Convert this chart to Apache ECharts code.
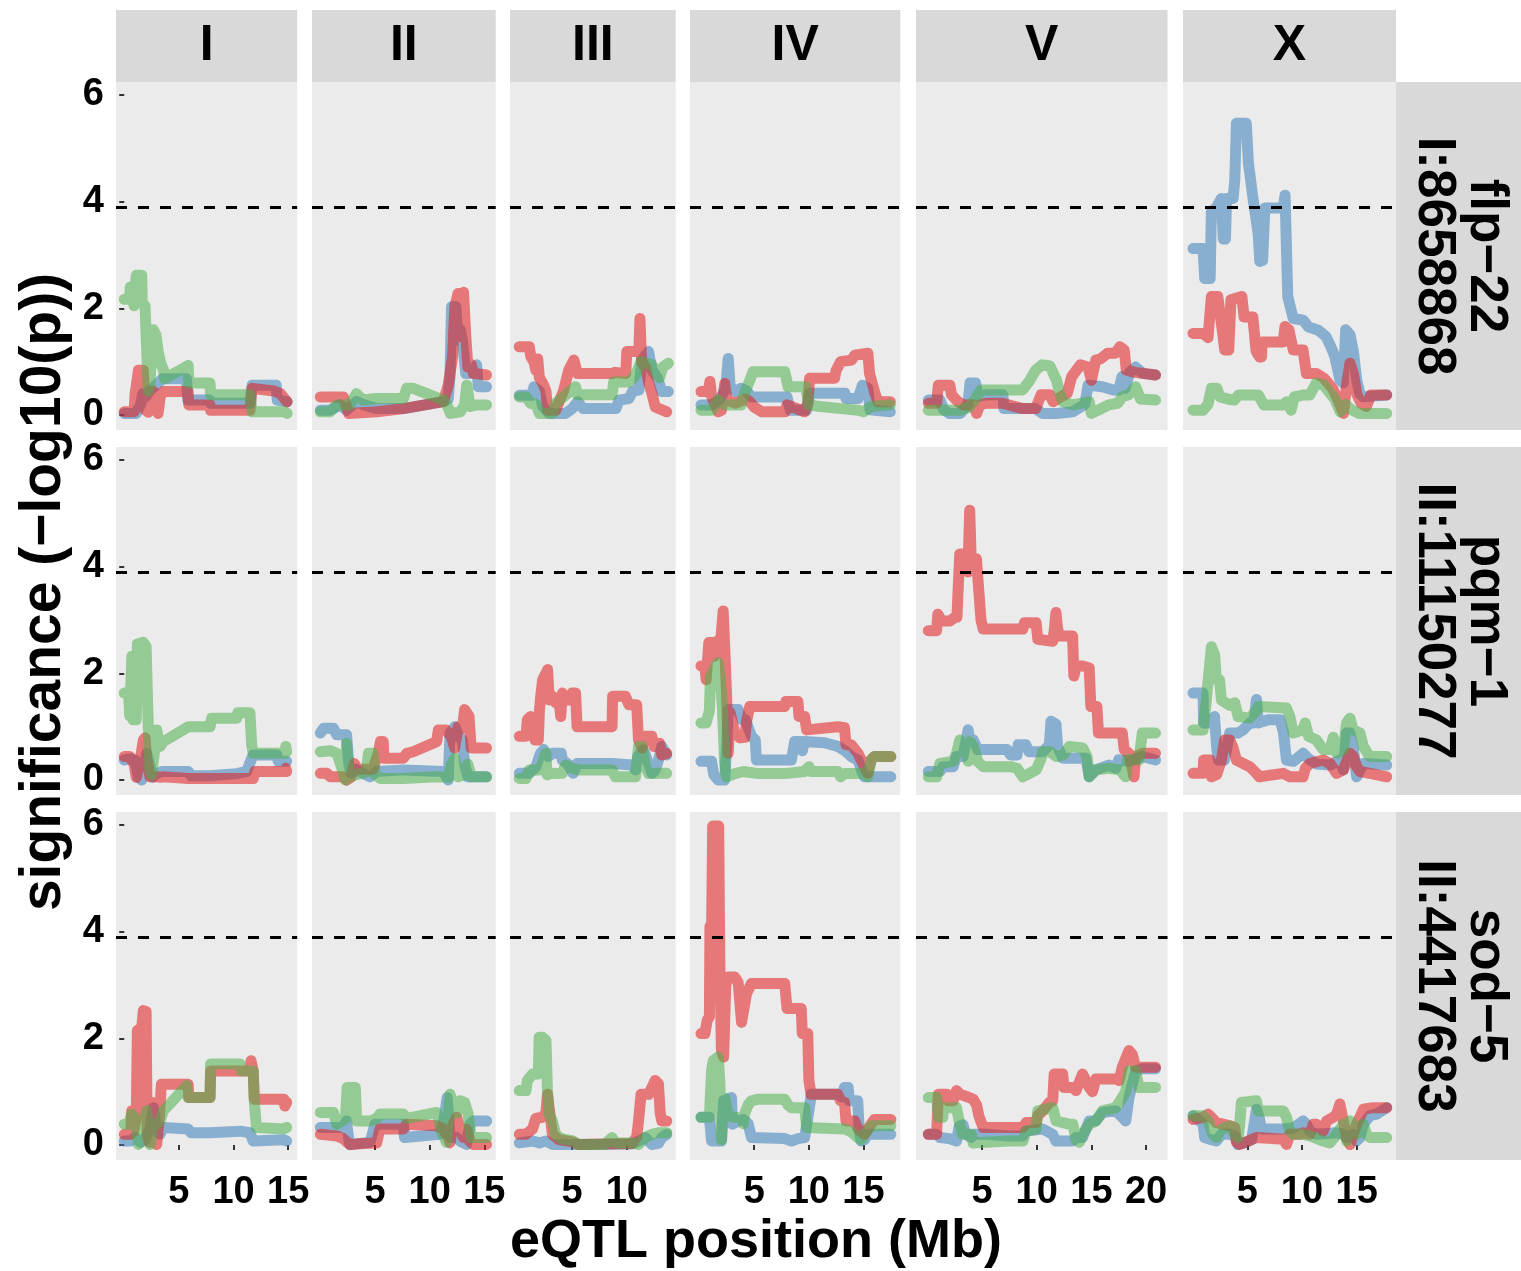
<!DOCTYPE html>
<html>
<head>
<meta charset="utf-8">
<script src="https://cdn.jsdelivr.net/npm/echarts@6/dist/echarts.min.js"></script>
<style>
html,body{margin:0;padding:0;background:#fff;}
#chart{width:1521px;height:1271px;}
</style>
</head>
<body>
<div id="chart"></div>
<script>
// ---------------- DATA ----------------
const chromNames = ['I', 'II', 'III', 'IV', 'V', 'X'];
const chromLengths = [15.07, 15.28, 13.78, 17.49, 20.92, 17.72];
const genes = ['flp22', 'pqm1', 'sod5'];
const geneNames = ['flp\u221222', 'pqm\u22121', 'sod\u22125'];
const genePositions = ['I:8658868', 'II:11150277', 'II:4417683'];
const yTicks = [0, 2, 4, 6];
const xTicks = [5, 10, 15, 20];
const threshold = 3.9;
const yRange = [-0.281, 6.244];
const xTitle = 'eQTL position (Mb)';
const yTitle = 'significance (\u2212log10(p))';

// flp-22
const flp22_I_blue = [[0,0.03],[1.1,0.03],[1.5,0.2],[1.7,0.4],[2.0,0.35],[2.3,0.45],[2.6,0.5],[3.2,0.62],[3.5,0.68],[5.7,0.68],[5.8,0.28],[7.8,0.28],[7.9,0.22],[11.5,0.22],[11.7,0.56],[13.9,0.56],[14.0,0.28],[14.9,0.25]];
const flp22_I_red = [[0,0.06],[0.9,0.06],[1.0,0.4],[1.3,0.84],[1.75,0.84],[1.9,0.1],[2.2,0.05],[2.6,0.45],[2.9,0.4],[3.1,0.03],[3.3,0.35],[3.6,0.44],[5.85,0.44],[5.9,0.19],[7.85,0.19],[7.9,0.09],[11.5,0.09],[11.7,0.5],[13.7,0.45],[14.3,0.4],[14.9,0.25]];
const flp22_I_green = [[0,2.17],[0.5,2.17],[0.55,2.4],[0.85,2.4],[0.9,2.05],[1.05,2.05],[1.1,2.62],[1.6,2.62],[1.65,2.1],[1.9,2.05],[2.2,0.45],[2.35,0.6],[2.66,1.6],[2.9,1.5],[3.1,1.2],[3.3,1.0],[3.6,0.84],[3.7,0.68],[5.85,0.93],[5.9,0.6],[7.85,0.6],[7.9,0.38],[11.5,0.38],[11.7,0.06],[14.7,0.06],[14.9,0.03]];
const flp22_II_blue = [[0,0.09],[0.9,0.09],[1.8,0.19],[2.4,0.09],[3.3,0.25],[4.0,0.19],[5.15,0.12],[7.6,0.12],[11.25,0.25],[11.7,0.3],[11.86,0.72],[12.0,2.03],[12.4,2.03],[12.6,1.4],[12.8,1.6],[13.0,1.4],[13.3,0.78],[13.7,0.78],[14.3,0.94],[14.45,0.53],[15.2,0.53]];
const flp22_II_red = [[0,0.34],[2.1,0.34],[2.6,0.03],[5.2,0.06],[7.6,0.12],[11.25,0.25],[11.7,0.56],[12.1,1.1],[12.3,2.03],[12.6,2.28],[12.75,1.47],[12.9,2.2],[13.1,2.3],[13.3,1.5],[13.5,0.9],[13.8,0.95],[14.0,0.78],[15.2,0.75]];
const flp22_II_green = [[0,0.06],[0.9,0.06],[1.5,0.19],[2.7,0.19],[3.3,0.4],[3.9,0.28],[5.15,0.31],[7.6,0.31],[7.9,0.5],[8.5,0.5],[11.25,0.28],[11.6,0.18],[11.9,0.03],[12.8,0.06],[13.2,0.19],[13.4,0.56],[13.7,0.16],[14.3,0.19],[15.2,0.19]];
const flp22_III_blue = [[0.16,0.37],[1.3,0.37],[1.5,0.53],[2.0,0.45],[2.3,0.16],[2.9,0.03],[4.4,0.03],[5.0,0.12],[5.5,0.25],[6.0,0.12],[9.0,0.12],[9.3,0.28],[10.2,0.31],[10.5,0.44],[11.1,0.47],[11.38,1.03],[11.98,1.19],[12.3,0.84],[12.8,0.7],[13.2,0.44],[13.8,0.44]];
const flp22_III_red = [[0.16,1.28],[1.07,1.28],[1.22,1.09],[1.5,1.0],[1.68,0.84],[1.85,1.05],[2.0,0.7],[2.3,0.6],[2.6,0.45],[2.75,0.09],[3.5,0.09],[4.2,0.45],[4.7,0.85],[5.16,1.03],[5.47,0.78],[8.65,0.78],[8.95,0.8],[9.9,0.78],[10.0,1.19],[11.1,1.19],[11.2,1.81],[11.35,1.0],[11.7,0.9],[12.0,0.6],[12.3,0.4],[12.6,0.15],[13.65,0.06]];
const flp22_III_green = [[0.16,0.34],[0.8,0.34],[1.2,0.22],[1.7,0.2],[2.0,0.03],[3.2,0.03],[3.5,0.22],[4.2,0.34],[4.8,0.44],[5.3,0.53],[5.5,0.38],[8.65,0.38],[8.8,0.62],[10.2,0.62],[10.8,0.75],[11.3,1.0],[12.3,0.94],[12.6,0.82],[13.0,0.7],[13.3,0.9],[13.8,0.97]];
const flp22_IV_blue = [[0.13,0.19],[1.1,0.19],[1.8,0.28],[2.4,0.5],[2.62,1.06],[2.8,0.53],[3.3,0.44],[3.8,0.5],[4.3,0.45],[4.75,0.34],[8.0,0.34],[8.3,0.09],[9.8,0.09],[10.1,0.41],[13.3,0.41],[13.4,0.31],[14.5,0.31],[14.9,0.56],[15.4,0.5],[15.6,0.1],[17.45,0.06]];
const flp22_IV_red = [[0.13,0.44],[0.8,0.44],[0.95,0.63],[1.1,0.35],[1.7,0.06],[2.0,0.09],[2.3,0.59],[2.5,0.28],[3.3,0.22],[4.2,0.3],[4.6,0.25],[5.0,0.15],[5.7,0.06],[7.8,0.06],[8.0,0.19],[8.9,0.12],[9.6,0.06],[9.9,0.22],[10.07,0.69],[12.35,0.69],[12.5,0.84],[12.9,1.0],[13.9,1.03],[14.2,1.12],[15.4,1.16],[15.55,0.78],[16.0,0.44],[16.3,0.25],[17.45,0.25]];
const flp22_IV_green = [[0.13,0.09],[1.1,0.09],[1.7,0.28],[2.3,0.19],[3.8,0.19],[4.1,0.4],[4.5,0.6],[4.9,0.81],[7.8,0.81],[8.1,0.53],[9.7,0.53],[10.0,0.19],[11.0,0.16],[13.0,0.12],[14.5,0.09],[15.0,0.06],[15.7,0.16],[17.45,0.19]];
const flp22_V_blue = [[0.08,0.28],[1.14,0.28],[1.5,0.1],[2.0,0.03],[3.0,0.03],[3.5,0.15],[3.7,0.18],[3.9,0.6],[4.4,0.6],[4.6,0.35],[5.4,0.38],[6.9,0.38],[7.0,0.12],[9.9,0.12],[10.5,0.03],[11.8,0.03],[13.3,0.06],[14.0,0.15],[14.4,0.2],[14.7,0.56],[16.0,0.53],[17.0,0.47],[17.5,0.47],[17.8,0.72],[18.1,0.5],[18.5,0.8],[19.05,0.9],[19.7,0.78],[20.87,0.75]];
const flp22_V_red = [[0.08,0.22],[0.84,0.22],[1.0,0.56],[2.05,0.56],[2.2,0.38],[2.8,0.25],[3.3,0.19],[4.2,0.19],[4.5,0.03],[4.8,0.19],[5.4,0.22],[6.9,0.22],[8.7,0.12],[9.9,0.12],[10.4,0.38],[11.2,0.38],[11.5,0.25],[12.2,0.34],[12.8,0.41],[13.2,0.72],[14.0,0.94],[14.7,0.9],[15.0,0.65],[15.4,1.03],[15.8,1.05],[16.5,1.16],[17.2,1.16],[17.6,1.28],[18.0,1.22],[18.2,0.84],[19.0,0.8],[20.87,0.75]];
const flp22_V_green = [[0.08,0.09],[3.0,0.09],[3.8,0.15],[4.4,0.3],[4.9,0.47],[8.7,0.47],[9.3,0.63],[9.9,0.84],[10.5,0.94],[11.2,0.92],[11.8,0.66],[12.1,0.41],[12.4,0.25],[13.3,0.19],[14.8,0.25],[15.0,0.03],[15.6,0.09],[16.6,0.19],[17.4,0.22],[17.8,0.34],[18.4,0.38],[19.05,0.53],[19.5,0.3],[20.87,0.28]];
const flp22_X_blue = [[0.03,3.12],[0.95,3.12],[1.1,2.56],[1.6,2.56],[1.71,3.81],[2.2,3.9],[2.63,4.06],[2.8,3.3],[3.0,3.3],[3.1,4.06],[3.7,4.06],[3.85,4.4],[4.0,5.47],[4.9,5.47],[5.1,4.72],[5.5,4.09],[5.99,3.4],[6.14,2.88],[6.4,2.9],[6.6,3.88],[8.28,3.88],[8.45,4.12],[8.7,2.22],[9.0,1.97],[9.2,1.81],[10.1,1.78],[10.6,1.65],[11.5,1.59],[12.2,1.47],[12.6,1.3],[13.0,1.1],[13.47,0.66],[13.78,0.6],[14.0,1.6],[14.4,1.5],[14.7,1.2],[15.0,0.66],[15.3,0.4],[15.6,0.34],[17.75,0.375]];
const flp22_X_red = [[0.03,1.53],[0.95,1.53],[1.4,1.45],[1.71,2.22],[2.3,2.22],[2.7,1.6],[2.93,1.22],[3.3,1.22],[3.5,2.16],[4.5,2.22],[4.7,1.84],[5.5,1.84],[5.8,1.2],[6.1,1.09],[6.3,1.09],[6.35,1.37],[8.28,1.37],[8.45,1.66],[8.8,1.6],[9.2,1.22],[10.1,1.22],[10.4,0.78],[11.3,0.78],[12.0,0.69],[12.8,0.5],[13.3,0.28],[13.8,0.03],[14.1,0.6],[14.39,0.97],[14.7,0.78],[15.0,0.4],[15.4,0.22],[15.9,0.16],[16.3,0.375],[17.75,0.375]];
const flp22_X_green = [[0.03,0.09],[0.95,0.09],[1.4,0.2],[1.71,0.5],[2.2,0.5],[2.5,0.34],[3.2,0.3],[3.8,0.28],[4.2,0.375],[6.0,0.375],[6.5,0.19],[8.3,0.19],[8.6,0.25],[9.0,0.09],[9.3,0.34],[10.1,0.375],[10.7,0.375],[11.3,0.6],[12.0,0.56],[12.6,0.4],[13.0,0.3],[13.5,0.06],[14.0,0.2],[14.5,0.1],[15.2,0.03],[17.75,0.03]];

// pqm-1
const pqm1_I_blue = [[0,0.375],[0.6,0.4],[1.0,0.37],[1.3,0.05],[1.6,0.0],[1.9,0.3],[2.05,0.5],[2.3,0.3],[2.6,0.05],[3.0,0.12],[3.5,0.16],[5.87,0.16],[6.1,0.08],[7.85,0.08],[10.3,0.12],[11.2,0.16],[11.6,0.375],[11.8,0.47],[13.95,0.47],[14.1,0.35],[14.86,0.35]];
const pqm1_I_red = [[0,0.44],[0.5,0.44],[0.9,0.3],[1.1,0.05],[1.4,0.3],[1.75,0.75],[1.9,0.79],[2.05,0.4],[2.36,0.06],[2.97,0.06],[3.3,0.05],[3.58,0.06],[5.87,0.03],[7.85,0.03],[11.8,0.03],[11.95,0.16],[14.7,0.16],[14.78,0.22],[14.86,0.16]];
const pqm1_I_green = [[0,1.63],[0.4,1.63],[0.5,1.2],[0.7,2.32],[0.8,1.13],[1.1,1.13],[1.2,2.55],[1.75,2.58],[2.0,2.5],[2.2,1.0],[2.36,0.2],[2.5,0.1],[2.75,0.5],[2.97,0.94],[3.3,0.63],[3.58,0.72],[5.87,1.0],[7.85,1.0],[8.0,1.16],[10.29,1.16],[10.4,1.26],[11.5,1.26],[11.66,0.66],[11.8,0.5],[14.7,0.5],[14.78,0.63],[14.86,0.53]];
const pqm1_II_blue = [[0,0.88],[0.3,0.97],[1.2,0.97],[1.5,0.85],[2.4,0.85],[2.6,0.3],[2.8,0.13],[3.3,0.2],[3.9,0.12],[4.54,0.06],[5.15,0.16],[7.6,0.19],[11.25,0.16],[11.7,0.0],[11.86,0.88],[12.3,1.0],[12.7,0.8],[13.0,0.75],[13.2,0.3],[13.5,0.06],[15.2,0.06]];
const pqm1_II_red = [[0,0.125],[0.6,0.125],[0.9,0.06],[2.1,0.06],[2.4,0.0],[2.8,0.05],[3.1,0.31],[3.4,0.2],[4.8,0.2],[5.3,0.5],[5.5,0.72],[5.76,0.72],[5.8,0.41],[7.6,0.41],[7.9,0.5],[8.5,0.53],[10.64,0.72],[10.8,0.94],[11.5,0.94],[12.0,0.8],[12.3,0.6],[12.6,1.0],[13.0,0.97],[13.2,1.32],[13.6,1.2],[13.8,0.6],[15.2,0.6]];
const pqm1_II_green = [[0,0.53],[0.9,0.55],[1.5,0.5],[2.0,0.2],[2.3,0.0],[2.4,0.69],[2.6,0.05],[3.3,0.1],[4.2,0.15],[4.4,0.5],[4.8,0.5],[5.0,0.1],[5.5,0.03],[7.6,0.03],[10.64,0.06],[11.7,0.05],[12.0,0.3],[12.3,0.41],[12.6,0.06],[13.2,0.1],[13.5,0.3],[13.8,0.06],[15.2,0.06]];
const pqm1_III_blue = [[0.16,0.125],[1.07,0.125],[1.68,0.25],[2.1,0.5],[2.4,0.57],[2.8,0.44],[3.2,0.5],[4.0,0.5],[4.1,0.375],[4.6,0.3],[5.1,0.125],[5.45,0.31],[8.65,0.31],[10.47,0.28],[10.8,0.19],[11.0,0.44],[11.5,0.57],[11.7,0.47],[12.3,0.125],[12.6,0.19],[12.9,0.375],[13.2,0.63],[13.65,0.47]];
const pqm1_III_red = [[0.16,0.82],[0.77,0.82],[0.9,1.13],[1.2,1.19],[1.4,0.9],[1.6,0.75],[1.9,0.75],[2.0,1.3],[2.15,1.63],[2.3,1.88],[2.6,2.0],[2.75,2.07],[2.9,1.5],[3.2,1.57],[3.5,1.45],[3.8,1.5],[3.95,1.19],[4.1,1.63],[4.4,1.5],[4.8,1.5],[5.0,1.63],[5.31,1.63],[5.45,1.0],[8.65,1.0],[8.7,1.57],[9.86,1.57],[10.2,1.41],[10.9,1.41],[11.07,0.75],[11.4,0.6],[11.68,0.82],[12.29,0.82],[12.5,0.63],[12.89,0.63],[13.0,0.69],[13.2,0.47],[13.65,0.5]];
const pqm1_III_green = [[0.16,0.03],[0.77,0.03],[1.07,0.19],[1.98,0.19],[2.28,0.3],[2.59,0.5],[2.7,0.1],[3.0,0.12],[4.1,0.125],[4.4,0.28],[5.0,0.22],[5.6,0.19],[8.65,0.19],[8.95,0.06],[10.8,0.06],[11.07,0.63],[11.4,0.63],[11.7,0.25],[12.0,0.12],[13.2,0.125],[13.65,0.125]];
const pqm1_IV_blue = [[0.13,0.35],[1.1,0.35],[1.3,0.1],[1.7,0.0],[2.3,0.0],[2.5,0.7],[2.62,1.32],[3.53,1.32],[3.9,1.13],[4.2,1.13],[4.75,0.82],[5.1,0.75],[5.2,0.375],[8.4,0.375],[8.7,0.72],[9.3,0.72],[9.4,0.55],[9.6,0.72],[11.43,0.7],[12.65,0.63],[13.3,0.55],[13.9,0.44],[14.5,0.375],[14.8,0.19],[15.1,0.06],[17.5,0.06]];
const pqm1_IV_red = [[0.13,2.14],[0.49,2.14],[0.6,1.88],[0.85,2.58],[1.2,2.58],[1.35,2.32],[1.6,2.6],[1.85,2.4],[2.16,3.17],[2.3,2.5],[2.47,1.6],[2.62,0.5],[2.8,1.26],[3.23,0.88],[3.7,0.79],[4.14,0.8],[4.3,1.1],[4.6,1.38],[7.79,1.38],[7.9,1.47],[9.0,1.47],[9.1,1.19],[9.61,1.19],[9.8,0.94],[12.65,1.0],[13.26,0.98],[13.4,0.66],[13.87,0.66],[14.5,0.5],[15.08,0.25],[15.39,0.13],[15.7,0.38],[16.0,0.44],[17.5,0.44]];
const pqm1_IV_green = [[0.13,1.07],[0.6,1.07],[0.9,1.3],[1.0,1.95],[1.4,2.1],[1.71,2.2],[1.9,1.9],[2.1,1.3],[2.3,0.3],[2.47,0.06],[3.23,0.12],[4.0,0.16],[5.4,0.12],[7.8,0.12],[9.6,0.16],[10.0,0.25],[10.2,0.16],[12.65,0.16],[12.9,0.06],[13.3,0.12],[14.5,0.12],[15.1,0.12],[15.39,0.06],[15.7,0.375],[16.0,0.44],[17.5,0.44]];
const pqm1_V_blue = [[0.08,0.16],[1.14,0.16],[1.4,0.25],[2.35,0.25],[2.66,0.44],[3.26,0.44],[3.72,0.94],[3.9,0.75],[4.2,0.75],[4.6,0.57],[7.3,0.57],[7.6,0.47],[8.2,0.47],[8.3,0.66],[9.0,0.66],[9.3,0.53],[10.55,0.53],[11.16,0.66],[11.3,1.1],[11.76,1.05],[11.9,0.63],[12.37,0.41],[13.59,0.41],[14.5,0.41],[14.8,0.06],[15.4,0.19],[16.6,0.28],[17.23,0.22],[17.5,0.38],[18.4,0.35],[19.66,0.44],[20.87,0.375]];
const pqm1_V_red = [[0.08,2.8],[0.84,2.8],[0.95,3.11],[1.3,2.98],[2.05,2.98],[2.5,3.05],[2.7,3.05],[2.81,3.58],[2.96,4.24],[3.5,4.24],[3.7,3.9],[3.87,5.06],[4.0,4.15],[4.48,4.15],[4.9,3.0],[5.1,2.83],[8.73,2.83],[8.88,2.95],[9.94,2.95],[10.1,2.64],[11.46,2.6],[11.6,2.8],[11.76,3.14],[11.9,2.85],[12.07,2.7],[13.28,2.7],[13.4,1.95],[13.6,2.14],[14.2,2.14],[14.8,2.1],[14.95,1.38],[15.5,1.38],[15.65,0.88],[17.83,0.88],[18.0,0.57],[18.44,0.5],[18.9,0.06],[19.05,0.44],[19.66,0.5],[20.87,0.5]];
const pqm1_V_green = [[0.08,0.06],[0.84,0.06],[1.14,0.31],[2.35,0.35],[2.66,0.5],[2.96,0.75],[3.3,0.6],[3.57,0.55],[3.72,0.35],[3.87,0.72],[4.2,0.63],[4.6,0.35],[5.1,0.25],[7.6,0.25],[8.2,0.22],[8.73,0.06],[9.3,0.12],[9.94,0.19],[10.4,0.4],[10.55,0.53],[11.2,0.53],[11.8,0.44],[12.4,0.47],[12.98,0.63],[14.2,0.6],[14.6,0.44],[14.8,0.06],[15.4,0.19],[16.6,0.22],[17.6,0.19],[18.14,0.06],[18.3,0.38],[19.35,0.38],[19.66,0.88],[20.87,0.88]];
const pqm1_X_blue = [[0.03,1.63],[0.95,1.63],[1.0,1.07],[1.6,1.07],[2.0,1.19],[2.2,0.6],[2.35,0.375],[2.9,0.375],[3.39,0.88],[4.15,0.88],[4.61,0.94],[5.22,1.07],[5.6,1.07],[5.83,1.51],[6.0,1.07],[6.9,1.13],[8.0,1.13],[8.3,0.9],[8.58,0.375],[9.2,0.35],[10.11,0.5],[10.6,0.4],[11.33,0.3],[12.56,0.28],[13.47,0.375],[13.78,0.19],[14.08,0.88],[14.39,0.88],[14.69,0.6],[15.0,0.06],[15.3,0.19],[15.61,0.31],[17.75,0.28]];
const pqm1_X_red = [[0.03,0.125],[0.95,0.125],[1.0,0.375],[1.6,0.375],[1.71,0.06],[2.2,0.1],[2.63,0.375],[2.93,0.75],[3.39,0.75],[3.7,0.6],[4.0,0.375],[4.61,0.31],[5.22,0.25],[5.83,0.125],[6.1,0.06],[8.28,0.125],[8.9,0.06],[10.1,0.06],[10.3,0.22],[10.72,0.31],[11.94,0.375],[12.56,0.31],[13.17,0.125],[13.78,0.19],[14.39,0.5],[14.69,0.44],[15.0,0.25],[15.3,0.16],[16.22,0.125],[17.75,0.06]];
const pqm1_X_green = [[0.03,0.94],[0.95,0.94],[1.2,1.4],[1.71,2.5],[2.0,2.35],[2.17,1.88],[2.45,1.88],[2.63,1.5],[3.39,1.4],[3.85,1.45],[4.15,1.19],[5.22,1.16],[5.83,1.3],[6.0,1.38],[8.58,1.35],[8.89,1.19],[9.19,0.88],[10.1,0.94],[10.3,1.07],[10.6,0.82],[11.33,0.75],[11.94,0.57],[12.56,0.57],[12.86,0.8],[13.17,0.5],[13.78,0.57],[14.08,1.07],[14.39,1.16],[14.69,0.94],[15.3,0.88],[15.61,0.63],[16.0,0.5],[16.22,0.44],[17.75,0.44]];

// sod-5
const sod5_I_blue = [[0,0.075],[0.6,0.075],[0.99,0.14],[1.5,0.05],[1.9,0.1],[2.36,0.3],[2.66,0.7],[2.97,0.3],[3.27,0.2],[3.58,0.33],[5.85,0.3],[6.1,0.23],[7.85,0.23],[10.6,0.26],[11.5,0.23],[11.8,0.075],[14.6,0.1],[14.86,0.075]];
const sod5_I_red = [[0,0.2],[0.6,0.2],[0.68,0.64],[0.85,0.25],[1.1,0.5],[1.2,2.15],[1.6,2.2],[1.75,2.52],[2.0,2.5],[2.1,0.2],[2.3,0.05],[2.5,0.8],[2.66,0.1],[2.97,0.01],[3.2,0.5],[3.4,1.14],[5.85,1.14],[5.9,0.89],[7.85,0.89],[7.9,1.39],[10.6,1.39],[11.5,1.39],[11.6,1.58],[11.8,1.39],[11.9,0.86],[14.6,0.86],[14.7,0.73],[14.86,0.8]];
const sod5_I_green = [[0,0.39],[0.4,0.39],[0.68,0.58],[1.0,0.5],[1.3,0.01],[1.6,0.1],[1.9,0.5],[2.05,0.64],[2.36,0.01],[2.66,0.39],[2.97,0.39],[3.27,0.45],[3.58,0.64],[5.71,1.11],[5.85,0.89],[7.85,0.89],[7.9,1.52],[10.59,1.52],[10.7,1.39],[11.8,1.39],[11.9,0.8],[12.1,0.33],[14.6,0.3],[14.86,0.33]];
const sod5_II_blue = [[0,0.33],[2.1,0.33],[2.4,0.45],[2.6,0.1],[2.71,0.01],[4.54,0.05],[5.0,0.39],[7.59,0.39],[7.7,0.14],[10.9,0.2],[11.25,0.39],[11.6,0.89],[11.86,0.14],[12.47,0.14],[12.77,0.075],[13.38,0.01],[13.69,0.39],[13.99,0.45],[15.21,0.45]];
const sod5_II_red = [[0,0.2],[1.5,0.17],[2.1,0.12],[2.4,0.06],[2.71,0.01],[3.9,0.03],[5.15,0.04],[5.45,0.3],[7.59,0.3],[7.9,0.39],[10.64,0.36],[11.25,0.3],[11.7,0.14],[11.86,0.04],[12.16,0.39],[12.47,0.52],[12.77,0.3],[13.08,0.14],[13.38,0.3],[13.7,0.06],[14.0,0.01],[15.2,0.01]];
const sod5_II_green = [[0,0.61],[1.2,0.61],[1.5,0.39],[2.3,0.5],[2.45,1.08],[3.2,1.08],[3.32,0.45],[4.6,0.45],[5.15,0.5],[5.45,0.58],[7.6,0.58],[7.9,0.5],[10.64,0.61],[11.1,0.25],[11.55,0.05],[11.86,0.95],[12.2,0.7],[12.47,0.6],[12.77,0.83],[13.2,0.8],[13.5,0.6],[13.8,0.14],[15.2,0.14]];
const sod5_III_blue = [[0.16,0.04],[1.37,0.075],[2.0,0.04],[2.6,0.075],[3.19,0.01],[5.61,0.01],[10.47,0.02],[11.07,0.075],[11.68,0.14],[12.29,0.01],[12.89,0.03],[13.2,0.14],[13.65,0.2]];
const sod5_III_red = [[0.16,0.2],[0.77,0.2],[1.37,0.3],[1.68,0.5],[2.28,0.52],[2.59,0.6],[2.74,0.95],[2.89,0.7],[3.19,0.2],[3.8,0.1],[5.01,0.06],[5.61,0.01],[10.47,0.03],[10.9,0.15],[11.07,0.45],[11.3,0.95],[12.0,0.95],[12.29,1.08],[12.59,1.21],[12.89,1.15],[13.05,0.6],[13.2,0.45],[13.65,0.45]];
const sod5_III_green = [[0.16,1.02],[0.77,1.02],[0.9,1.21],[1.37,1.33],[1.9,1.33],[1.98,2.02],[2.28,2.02],[2.6,1.96],[2.74,1.0],[2.89,0.58],[3.19,0.45],[3.49,0.2],[3.8,0.14],[4.4,0.1],[5.01,0.08],[5.61,0.01],[8.04,0.01],[8.35,0.08],[8.65,0.14],[8.95,0.04],[10.47,0.04],[11.07,0.01],[11.38,0.08],[11.68,0.14],[12.29,0.2],[12.89,0.23],[13.65,0.23]];
const sod5_IV_blue = [[0.13,0.52],[0.9,0.52],[1.1,0.075],[2.01,0.075],[2.2,0.83],[2.92,0.89],[3.0,0.39],[3.53,0.45],[3.99,0.48],[4.44,0.4],[4.75,0.14],[7.79,0.12],[8.4,0.075],[9.0,0.12],[9.61,0.14],[9.9,0.5],[10.22,0.95],[12.65,0.95],[13.0,0.9],[13.26,1.08],[13.6,1.08],[13.7,0.83],[14.47,0.83],[14.6,0.3],[14.78,0.075],[15.08,0.1],[15.39,0.2],[17.5,0.2]];
const sod5_IV_red = [[0.13,2.09],[0.49,2.09],[0.7,2.34],[0.9,2.4],[0.95,4.1],[1.1,4.0],[1.2,5.98],[1.75,5.98],[1.85,3.5],[2.0,1.77],[2.2,1.65],[2.4,3.0],[2.62,3.15],[3.23,3.15],[3.53,3.05],[3.84,2.3],[3.99,2.27],[4.3,2.84],[4.75,3.03],[7.79,3.03],[8.0,2.56],[9.3,2.56],[9.4,2.09],[9.9,2.09],[10.0,1.21],[10.2,0.95],[12.65,0.95],[12.9,0.83],[13.26,0.8],[13.4,0.45],[14.2,0.45],[14.5,0.3],[15.08,0.2],[15.4,0.3],[15.7,0.39],[16.0,0.48],[17.5,0.48]];
const sod5_IV_green = [[0.13,0.52],[0.9,0.52],[1.1,1.4],[1.25,1.58],[1.71,1.65],[1.85,1.2],[2.0,0.1],[2.16,0.8],[2.32,0.88],[2.62,0.55],[3.23,0.52],[3.84,0.5],[4.0,0.4],[4.14,0.6],[4.44,0.75],[4.75,0.83],[5.36,0.86],[7.79,0.86],[8.09,0.75],[8.4,0.7],[9.61,0.7],[9.8,0.33],[13.26,0.3],[13.87,0.25],[14.47,0.14],[14.78,0.1],[15.08,0.2],[15.7,0.36],[17.5,0.36]];
const sod5_V_blue = [[0.08,0.2],[0.84,0.2],[1.14,0.14],[2.0,0.12],[2.66,0.075],[2.9,0.35],[3.26,0.38],[3.5,0.2],[4.0,0.14],[4.18,0.2],[5.39,0.2],[7.51,0.17],[8.73,0.17],[9.0,0.26],[10.55,0.3],[11.46,0.2],[11.76,0.075],[13.28,0.075],[13.59,0.14],[14.19,0.14],[14.8,0.45],[15.41,0.45],[16.01,0.61],[17.23,0.64],[17.83,0.52],[18.14,0.45],[18.44,0.89],[19.05,1.39],[19.66,1.43],[20.87,1.43]];
const sod5_V_red = [[0.08,0.2],[0.84,0.2],[1.0,0.95],[1.75,0.95],[1.9,0.83],[2.35,0.83],[2.66,1.02],[3.0,0.95],[3.7,0.9],[4.18,0.86],[4.5,0.75],[4.7,0.55],[5.09,0.33],[8.73,0.33],[9.03,0.42],[9.94,0.42],[10.1,0.55],[10.55,0.64],[11.16,0.8],[11.46,0.83],[11.6,1.33],[12.37,1.33],[12.5,1.08],[13.28,1.08],[13.59,1.02],[14.19,1.33],[14.8,1.08],[15.1,1.0],[15.41,1.24],[17.23,1.24],[17.53,1.21],[17.83,1.46],[18.44,1.77],[18.74,1.7],[19.05,1.46],[20.87,1.46]];
const sod5_V_green = [[0.08,0.89],[0.84,0.89],[1.0,0.52],[1.4,0.52],[1.5,0.7],[2.66,0.7],[2.96,0.39],[3.2,0.2],[4.02,0.2],[4.18,0.04],[5.39,0.05],[7.51,0.075],[8.73,0.075],[9.03,0.26],[9.94,0.3],[10.1,0.64],[11.46,0.7],[11.76,0.45],[12.98,0.39],[13.3,0.39],[13.59,0.1],[13.89,0.05],[14.19,0.2],[14.8,0.39],[15.41,0.45],[16.01,0.64],[16.62,0.67],[17.23,0.7],[17.83,0.89],[18.14,1.0],[18.44,1.39],[19.05,1.39],[19.35,1.08],[20.87,1.08]];
const sod5_X_blue = [[0.03,0.55],[0.95,0.4],[1.1,0.14],[1.71,0.1],[2.17,0.075],[2.63,0.2],[3.39,0.2],[3.85,0.17],[4.15,0.01],[4.9,0.05],[5.4,0.1],[5.83,0.67],[6.1,0.5],[6.3,0.3],[8.28,0.3],[9.2,0.32],[10.11,0.45],[10.42,0.38],[10.72,0.26],[11.33,0.2],[13.17,0.23],[13.78,0.2],[14.08,0.14],[14.69,0.2],[14.99,0.075],[15.3,0.14],[15.61,0.39],[16.22,0.55],[16.83,0.58],[17.75,0.7]];
const sod5_X_red = [[0.03,0.48],[0.95,0.52],[1.41,0.58],[1.71,0.52],[2.17,0.42],[2.8,0.39],[3.39,0.36],[3.85,0.33],[4.0,0.05],[4.3,0.01],[4.9,0.06],[5.83,0.14],[8.28,0.11],[8.58,0.01],[8.89,0.2],[9.81,0.2],[10.11,0.23],[10.72,0.2],[11.03,0.39],[11.33,0.39],[11.94,0.26],[12.25,0.45],[12.86,0.52],[13.17,0.58],[13.47,0.77],[13.78,0.45],[14.08,0.14],[14.39,0.01],[14.69,0.2],[14.99,0.39],[15.3,0.52],[15.61,0.67],[16.5,0.7],[17.75,0.7]];
const sod5_X_green = [[0.03,0.55],[0.95,0.55],[1.41,0.45],[1.86,0.2],[2.17,0.14],[2.63,0.3],[3.39,0.36],[3.85,0.2],[4.15,0.14],[4.3,0.39],[4.46,0.8],[5.83,0.83],[6.0,0.64],[8.28,0.64],[8.58,0.52],[8.89,0.26],[9.19,0.2],[10.11,0.2],[10.72,0.17],[11.94,0.075],[12.56,0.04],[13.17,0.2],[13.78,0.39],[14.08,0.075],[14.39,0.45],[14.69,0.39],[14.99,0.2],[15.61,0.39],[15.9,0.2],[16.22,0.14],[17.75,0.14]];

const seriesTable = {
  flp22: {
    I: [flp22_I_blue, flp22_I_red, flp22_I_green],
    II: [flp22_II_blue, flp22_II_red, flp22_II_green],
    III: [flp22_III_blue, flp22_III_red, flp22_III_green],
    IV: [flp22_IV_blue, flp22_IV_red, flp22_IV_green],
    V: [flp22_V_blue, flp22_V_red, flp22_V_green],
    X: [flp22_X_blue, flp22_X_red, flp22_X_green]
  },
  pqm1: {
    I: [pqm1_I_blue, pqm1_I_red, pqm1_I_green],
    II: [pqm1_II_blue, pqm1_II_red, pqm1_II_green],
    III: [pqm1_III_blue, pqm1_III_red, pqm1_III_green],
    IV: [pqm1_IV_blue, pqm1_IV_red, pqm1_IV_green],
    V: [pqm1_V_blue, pqm1_V_red, pqm1_V_green],
    X: [pqm1_X_blue, pqm1_X_red, pqm1_X_green]
  },
  sod5: {
    I: [sod5_I_blue, sod5_I_red, sod5_I_green],
    II: [sod5_II_blue, sod5_II_red, sod5_II_green],
    III: [sod5_III_blue, sod5_III_red, sod5_III_green],
    IV: [sod5_IV_blue, sod5_IV_red, sod5_IV_green],
    V: [sod5_V_blue, sod5_V_red, sod5_V_green],
    X: [sod5_X_blue, sod5_X_red, sod5_X_green]
  }
};

// ---------------- LAYOUT / STYLE ----------------
const lineColors = ['#377EB8', '#E41A1C', '#4DAF4A'];
const lineNames = ['blue', 'red', 'green'];
const FONT = '"Liberation Sans", Arial, Helvetica, sans-serif';
const colLeft = [116, 312, 510, 690, 916, 1183];
const pxPerMb = 10.93;
const rowTop = [82, 447, 812];
const rowH = 348;
const stripTop = 10;
const stripRight = 1521;

const chart = echarts.init(document.getElementById('chart'), null, {renderer: 'canvas'});

const grids = [], xAxes = [], yAxes = [], series = [], graphics = [];
let gi = 0;
genes.forEach((g, r) => {
  chromNames.forEach((c, k) => {
    const L = chromLengths[k];
    const w = L * 1.1 * pxPerMb;
    grids.push({
      left: colLeft[k], top: rowTop[r], width: w, height: rowH,
      show: true, backgroundColor: '#EBEBEB', borderWidth: 0,
      containLabel: false, outerBoundsMode: 'none'
    });
    const isBottom = r === genes.length - 1;
    const isLeft = k === 0;
    xAxes.push({
      type: 'value', gridIndex: gi, min: -0.05 * L, max: 1.05 * L,
      axisLine: {show: false}, splitLine: {show: false},
      axisTick: {show: isBottom, length: 5, lineStyle: {color: '#333333', width: 2},
                 customValues: xTicks.filter(v => v <= 1.05 * L)},
      axisLabel: {show: isBottom, fontSize: 38, fontWeight: 'bold', color: '#000',
                  fontFamily: FONT, margin: 14,
                  customValues: xTicks.filter(v => v <= 1.05 * L)}
    });
    yAxes.push({
      type: 'value', gridIndex: gi, min: yRange[0], max: yRange[1],
      axisLine: {show: false}, splitLine: {show: false},
      axisTick: {show: isLeft, length: 5, lineStyle: {color: '#333333', width: 2},
                 customValues: yTicks},
      axisLabel: {show: isLeft, fontSize: 38, fontWeight: 'bold', color: '#000',
                  fontFamily: FONT, margin: 12, customValues: yTicks}
    });
    const sets = seriesTable[g][c];
    sets.forEach((d, j) => {
      series.push({
        type: 'line', name: lineNames[j], xAxisIndex: gi, yAxisIndex: gi,
        data: d, showSymbol: false, symbol: 'none', silent: true, clip: true,
        z: 2 + j,
        lineStyle: {color: lineColors[j], width: 11, opacity: 0.55, cap: 'round', join: 'round'}
      });
    });
    series.push({
      type: 'line', xAxisIndex: gi, yAxisIndex: gi, data: [], z: 10, silent: true,
      markLine: {
        silent: true, symbol: ['none', 'none'], animation: false,
        label: {show: false},
        lineStyle: {color: '#000', type: [11, 11], width: 3, opacity: 1},
        emphasis: {disabled: true},
        data: [{yAxis: threshold}]
      }
    });
    if (r === 0) {
      graphics.push({type: 'rect', shape: {x: colLeft[k], y: stripTop, width: w, height: rowTop[0] - stripTop},
                     style: {fill: '#D9D9D9'}, silent: true});
      graphics.push({type: 'text', x: colLeft[k] + w / 2, y: 46,
                     style: {text: c, font: 'bold 50px ' + FONT, fill: '#000', align: 'center', verticalAlign: 'middle'},
                     silent: true});
    }
    if (k === chromNames.length - 1) {
      const sx = colLeft[k] + w;
      const cy = rowTop[r] + rowH / 2;
      graphics.push({type: 'rect', shape: {x: sx, y: rowTop[r], width: stripRight - sx, height: rowH},
                     style: {fill: '#D9D9D9'}, silent: true});
      graphics.push({type: 'text', x: 1486, y: cy, rotation: -Math.PI / 2,
                     style: {text: geneNames[r], font: 'bold 53px ' + FONT, fill: '#000',
                             align: 'center', verticalAlign: 'middle'},
                     silent: true});
      graphics.push({type: 'text', x: 1434, y: cy, rotation: -Math.PI / 2,
                     style: {text: genePositions[r], font: 'bold 53px ' + FONT, fill: '#000',
                             align: 'center', verticalAlign: 'middle'},
                     silent: true});
    }
    gi++;
  });
});

const plotLeft = colLeft[0];
const lastK = chromNames.length - 1;
const plotRight = colLeft[lastK] + chromLengths[lastK] * 1.1 * pxPerMb;
graphics.push({type: 'text', x: (plotLeft + plotRight) / 2, y: 1242,
               style: {text: xTitle, font: 'bold 54px ' + FONT, fill: '#000', align: 'center', verticalAlign: 'middle'},
               silent: true});
graphics.push({type: 'text', x: 44, y: 592, rotation: Math.PI / 2,
               style: {text: yTitle, font: 'bold 57px ' + FONT, fill: '#000', align: 'center', verticalAlign: 'middle'},
               silent: true});

chart.setOption({
  animation: false,
  backgroundColor: '#FFFFFF',
  grid: grids,
  xAxis: xAxes,
  yAxis: yAxes,
  series: series,
  graphic: {elements: graphics}
});
</script>
</body>
</html>
